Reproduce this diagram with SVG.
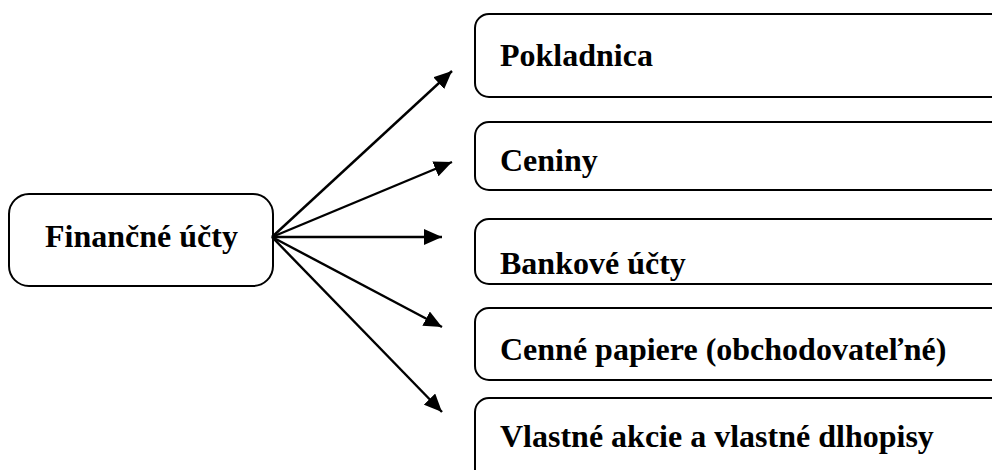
<svg xmlns="http://www.w3.org/2000/svg" width="992" height="470" viewBox="0 0 992 470">
<style>
.box{fill:#fff;stroke:#000;stroke-width:2}
.t{font-family:'Liberation Serif','Times New Roman',Times,serif;font-weight:700;font-size:32px;fill:#000}
.c{stroke:#000;stroke-width:2.4;fill:none}
</style>
<defs>
<marker id="ah" markerUnits="userSpaceOnUse" markerWidth="20" markerHeight="16" refX="18" refY="8" orient="auto">
<path d="M0,0 L18,8 L0,16 Z" fill="#000"/>
</marker>
</defs>
<rect width="992" height="470" fill="#fff"/>
<g id="n-fin">
<rect class="box" x="9" y="194" width="264" height="92" rx="20"/>
<text class="t" x="45" y="247">Finančné účty</text>
</g>
<g id="n-pok">
<rect class="box" x="475" y="14" width="560" height="83" rx="14"/>
<text class="t" x="500" y="66">Pokladnica</text>
</g>
<g id="n-cen">
<rect class="box" x="475" y="122" width="560" height="68" rx="14"/>
<text class="t" x="500" y="171">Ceniny</text>
</g>
<g id="n-ban">
<rect class="box" x="475" y="219" width="560" height="65" rx="14"/>
<text class="t" x="500" y="274">Bankové účty</text>
</g>
<g id="n-cp">
<rect class="box" x="475" y="308" width="560" height="72" rx="14"/>
<text class="t" x="500" y="360">Cenné papiere (obchodovateľné)</text>
</g>
<g id="n-vl">
<rect class="box" x="475" y="398" width="560" height="100" rx="14"/>
<text class="t" x="500" y="447">Vlastné akcie a vlastné dlhopisy</text>
</g>
<g id="connectors">
<line class="c" x1="272" y1="237" x2="452" y2="71" marker-end="url(#ah)"/>
<line class="c" x1="272" y1="237" x2="452" y2="162" marker-end="url(#ah)"/>
<line class="c" x1="272" y1="237" x2="442" y2="237" marker-end="url(#ah)"/>
<line class="c" x1="272" y1="237" x2="442" y2="327" marker-end="url(#ah)"/>
<line class="c" x1="272" y1="237" x2="442" y2="412" marker-end="url(#ah)"/>
</g>
</svg>
